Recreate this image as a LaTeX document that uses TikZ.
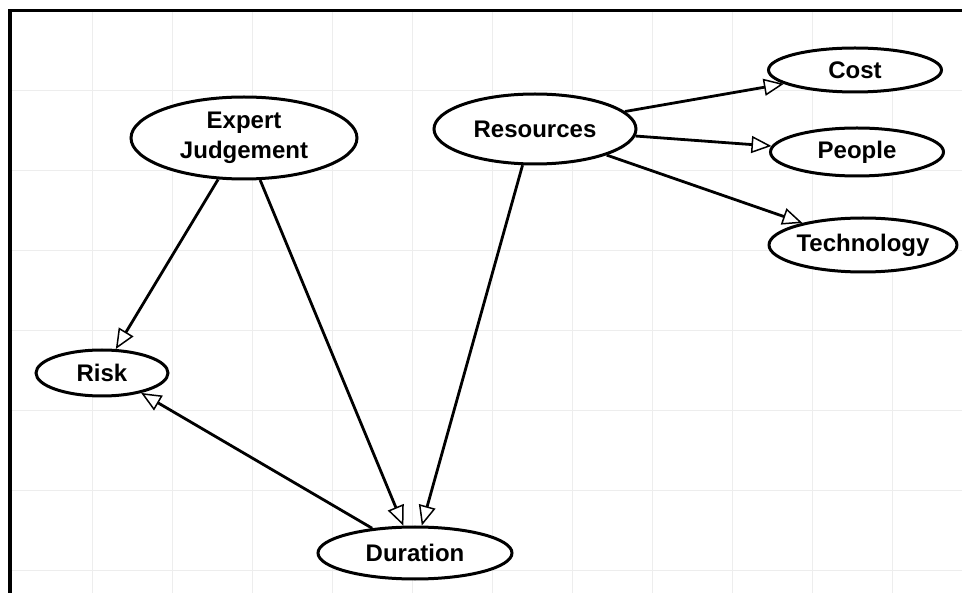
\documentclass[tikz,border=0pt]{standalone}
\usepackage{fontspec}
\setmainfont{Liberation Sans}
\usetikzlibrary{shapes.geometric,arrows.meta}
\begin{document}
\begin{tikzpicture}[x=1pt,y=-1pt,
  gridline/.style={draw=black!7,line width=1pt},
  ell/.style={ellipse,draw,line width=3pt,fill=white,inner sep=0pt,align=center,
    font=\bfseries\fontsize{24}{30}\selectfont},
  arr/.style={line width=2.8pt,-{Triangle[length=20pt,width=17pt,fill=white,line width=1.5pt]}}]
\useasboundingbox (0,0) rectangle (962,593);
\fill[white] (0,0) rectangle (962,593);
\foreach \x in {92,172,...,892} \draw[gridline] (\x,11) -- (\x,593);
\foreach \y in {91,171,...,571} \draw[gridline] (10,\y) -- (962,\y);
\draw[line width=3.5pt] (10,593) -- (10,10.5) -- (962,10.5);

\node[ell,minimum width=226pt,minimum height=82pt] (ej) at (244,138) {Expert\\Judgement};
\node[ell,minimum width=202pt,minimum height=70pt] (res) at (535,129) {Resources};
\node[ell,minimum width=173pt,minimum height=44pt] (cost) at (855,70) {Cost};
\node[ell,minimum width=173pt,minimum height=48pt] (people) at (857,152) {People};
\node[ell,minimum width=178pt,minimum height=54pt] (tech) at (863,245) {Technology};
\node[ell,minimum width=132pt,minimum height=46pt] (risk) at (102,373) {Risk};
\node[ell,minimum width=194pt,minimum height=52pt] (dur) at (415,553) {Duration};

\draw[arr] (ej.238) -- (risk.60);
\draw[arr] (ej.-69) -- (dur.113);
\draw[arr] (res.-109) -- (dur.76);
\draw[arr] (dur.150) -- (risk.-27);
\draw[arr] (res.11) -- (cost.191.6);
\draw[arr] (res.-4) -- (people.176.6);
\draw[arr] (res.-20) -- (tech.160.7);
\end{tikzpicture}
\end{document}
